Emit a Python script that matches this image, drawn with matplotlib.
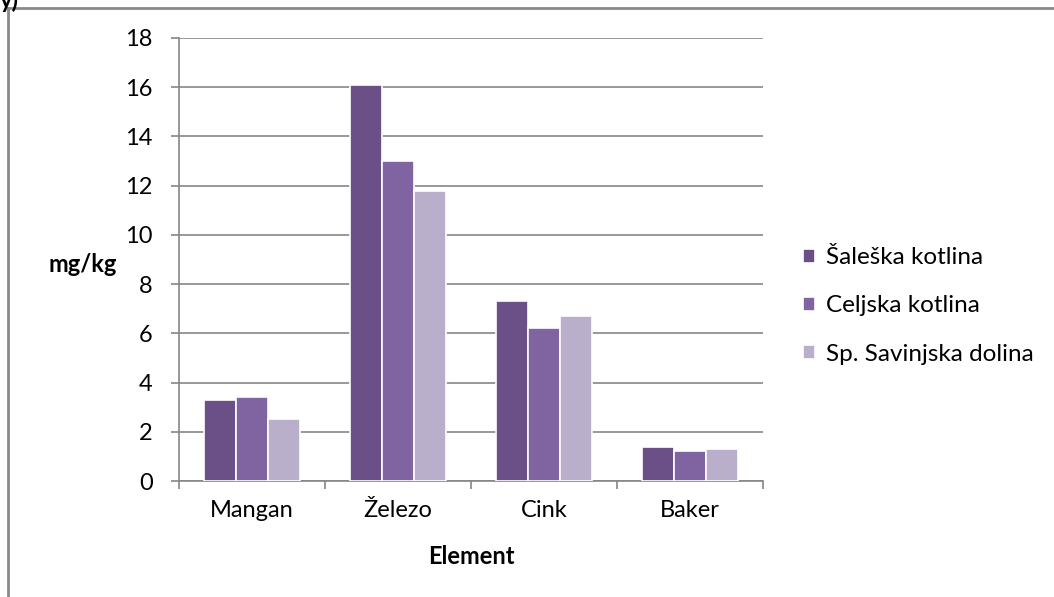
import matplotlib.pyplot as plt
import numpy as np
from matplotlib.lines import Line2D

plt.rcParams['font.family'] = ['Lato', 'DejaVu Sans']

elements = ["Mangan", "Železo", "Cink", "Baker"]
series = ["Šaleška kotlina", "Celjska kotlina", "Sp. Savinjska dolina"]
saleska = [3.3, 16.1, 7.3, 1.4]
celjska = [3.4, 13.0, 6.2, 1.2]
savinjska = [2.5, 11.8, 6.7, 1.3]
colors = ["#6a5087", "#8064a2", "#b9afca"]

fs = 17
fig = plt.figure(figsize=(10.54, 5.97), dpi=100)
ax = fig.add_axes([179/1054, 1 - 481/597, (763-179)/1054, (481-38)/597])

x = np.arange(len(elements))
w = 0.22
for i, (vals, name) in enumerate(zip([saleska, celjska, savinjska], series)):
    ax.bar(x + (i - 1) * w, vals, w, color=colors[i], edgecolor="white",
           linewidth=1.2, label=name, zorder=3)

ax.set_xlim(-0.5, 3.5)
ax.set_ylim(0, 18)
ax.set_yticks(range(0, 19, 2))
ax.set_xticks(x)
ax.set_xticklabels(elements, fontsize=fs)
ax.set_xticks(np.arange(-0.5, 4, 1), minor=True)
ax.tick_params(axis="x", which="major", length=0, pad=14)
ax.tick_params(axis="x", which="minor", length=6, color="#868686", width=1.2)
ax.tick_params(axis="y", length=6, color="#868686", width=1.2, labelsize=fs, pad=13)
ax.grid(axis="y", color="#868686", linewidth=1.2, zorder=0)
for s in ["top", "right"]:
    ax.spines[s].set_visible(False)
for s in ["left", "bottom"]:
    ax.spines[s].set_color("#868686")
    ax.spines[s].set_linewidth(1.2)

ax.set_xlabel("Element", fontsize=fs, fontweight="bold", va="center")
ax.xaxis.set_label_coords(0.5, -(557 - 481) / 443)
ax.set_ylabel("mg/kg", fontsize=fs, fontweight="bold", rotation=0, va="center", ha="center")
ax.yaxis.set_label_coords(-(179 - 83) / 584, (481 - 265) / 443)

ax.legend(loc="center left", bbox_to_anchor=(1.052, (481 - 306) / 443), frameon=False,
          fontsize=17.5, handlelength=0.5, handleheight=0.5, handletextpad=0.45,
          labelspacing=1.12, borderaxespad=0)

# outer frame (partly cropped)
fig.add_artist(Line2D([7.5/1054, 7.5/1054], [0, 1 - 8/597], color="#8a8a8a", lw=2))
fig.add_artist(Line2D([7.5/1054, 1], [1 - 8/597, 1 - 8/597], color="#8a8a8a", lw=2))
fig.text(0.0, 1.0, "y)", fontsize=fs, fontweight="bold", va="center", ha="left")

fig.savefig("out.png", dpi=100)
